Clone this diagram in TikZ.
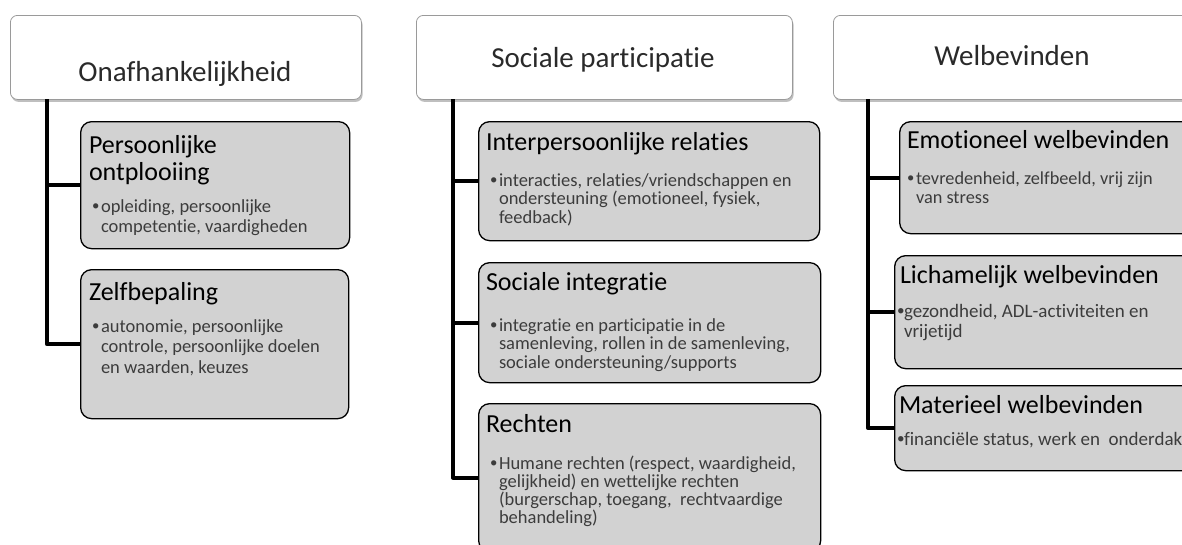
\documentclass[tikz,border=0pt]{standalone}
\usepackage{fontspec}
\setmainfont{Carlito}[Ligatures=NoCommon]
\usetikzlibrary{shadows,calc}
\definecolor{boxgray}{HTML}{D2D2D2}
\definecolor{bodytxt}{HTML}{3C3C3C}
\definecolor{hdrline}{HTML}{9A9A9A}
\definecolor{hdrtxt}{HTML}{2A2A2A}
\tikzset{
  hdr/.style={draw=hdrline, line width=0.8pt, fill=white, rounded corners=7pt, anchor=north west,
    drop shadow={shadow xshift=1.2pt, shadow yshift=-2.5pt, opacity=0.45, fill=black!55}},
  sub/.style={draw=black, line width=1.3pt, fill=boxgray, rounded corners=11pt, anchor=north west},
  conn/.style={line width=4pt, line join=round, draw=black},
  txt/.style={anchor=north west, inner sep=0pt, outer sep=0pt},
  hdrtext/.style={anchor=base, inner sep=0pt, text=hdrtxt, font=\fontsize{29}{34}\selectfont}
}
% #1 name, #2 box, #3 x offset, #4 y offset, #5 text
\newcommand\bxtitle[5]{\node[txt] (#1) at ($(#2.north west)+(#3,#4)$)
  {\begin{minipage}[t]{400pt}\fontsize{26}{27}\selectfont\rule{0pt}{22pt}#5\end{minipage}};}
% #1 name, #2 box, #3 x offset, #4 y offset, #5 size, #6 skip, #7 hang, #8 lines
\newcommand\bxbody[8]{\node[txt] (#1) at ($(#2.north west)+(#3,#4)$)
  {\begin{minipage}[t]{400pt}\color{bodytxt}\fontsize{#5}{#6}\selectfont\hangindent=#7pt\hangafter=1\noindent\rule{0pt}{18pt}\makebox[#7pt][l]{\raisebox{0.07em}{\scalebox{0.8}{•}}}#8\end{minipage}};}
\begin{document}
\begin{tikzpicture}[x=1pt,y=-1pt]
\clip (0,0) rectangle (1182,544);
\fill[white] (0,0) rectangle (1182,544);
% headers
\node[hdr, minimum width=351, minimum height=84] (h1) at (10,15) {};
\node[hdr, minimum width=376, minimum height=84] (h2) at (416,15) {};
\node[hdr, minimum width=360, minimum height=84] (h3) at (833,15) {};
\node[hdrtext] (h1t) at (185,81) {Onafhankelijkheid};
\node[hdrtext] (h2t) at (603,67) {Sociale participatie};
\node[hdrtext] (h3t) at (1012,65) {Welbevinden};
% column 1 boxes
\node[sub, minimum width=269, minimum height=127] (a1) at (80,121) {};
\node[sub, minimum width=268, minimum height=149] (a2) at (80,269) {};
% column 2 boxes
\node[sub, minimum width=341, minimum height=119] (b1) at (478,121) {};
\node[sub, minimum width=342, minimum height=120] (b2) at (478,262) {};
\node[sub, minimum width=342, minimum height=148] (b3) at (478,403) {};
% column 3 boxes
\node[sub, minimum width=320, minimum height=112] (c1) at (899,121) {};
\node[sub, minimum width=320, minimum height=113] (c2) at (894,255) {};
\node[sub, minimum width=320, minimum height=85] (c3) at (894,385) {};
% connectors
\coordinate (v1) at (47,99);
\coordinate (v2) at (453,99);
\coordinate (v3) at (868,99);
\draw[conn] (v1) |- (a2.west);
\draw[conn] (v1 |- a1.west) -- (a1.west);
\draw[conn] (v2) |- (b3.west);
\draw[conn] (v2 |- b1.west) -- (b1.west);
\draw[conn] (v2 |- b2.west) -- (b2.west);
\draw[conn] (v3) |- (c3.west);
\draw[conn] (v3 |- c1.west) -- (c1.west);
\draw[conn] (v3 |- c2.west) -- (c2.west);
% texts column 1
\bxtitle{a1t}{a1}{9}{10}{Persoonlijke\\ontplooiing}
\bxbody{a1b}{a1}{12}{73}{18.5}{20.5}{9}{opleiding, persoonlijke\\competentie, vaardigheden}
\bxtitle{a2t}{a2}{9}{9}{Zelfbepaling}
\bxbody{a2b}{a2}{12}{45}{18.5}{20.5}{9}{autonomie, persoonlijke\\controle, persoonlijke doelen\\en waarden, keuzes}
% texts column 2
\bxtitle{b1t}{b1}{8}{7}{Interpersoonlijke relaties}
\bxbody{b1b}{b1}{12}{47}{18.5}{18.7}{9}{interacties, relaties/vriendschappen en\\ondersteuning (emotioneel, fysiek,\\feedback)}
\bxtitle{b2t}{b2}{8}{6}{Sociale integratie}
\bxbody{b2b}{b2}{12}{51}{18.5}{18.5}{9}{integratie en participatie in de\\samenleving, rollen in de samenleving,\\sociale ondersteuning/supports}
\bxtitle{b3t}{b3}{8}{7}{Rechten}
\bxbody{b3b}{b3}{12}{48}{18.5}{18}{9}{Humane rechten (respect, waardigheid,\\gelijkheid) en wettelijke rechten\\(burgerschap, toegang,~ rechtvaardige\\behandeling)}
% texts column 3
\bxtitle{c1t}{c1}{8}{5}{Emotioneel welbevinden}
\bxbody{c1b}{c1}{8}{45}{18.3}{19}{9}{tevredenheid, zelfbeeld, vrij zijn\\van stress}
\bxtitle{c2t}{c2}{6}{6}{Lichamelijk welbevinden}
\bxbody{c2b}{c2}{3}{44}{19}{20}{7}{gezondheid, ADL-activiteiten en\\vrijetijd}
\bxtitle{c3t}{c3}{5}{6}{Materieel welbevinden}
\bxbody{c3b}{c3}{3}{42}{19}{18}{7}{financiële status, werk en~ onderdak}
\end{tikzpicture}
\end{document}
